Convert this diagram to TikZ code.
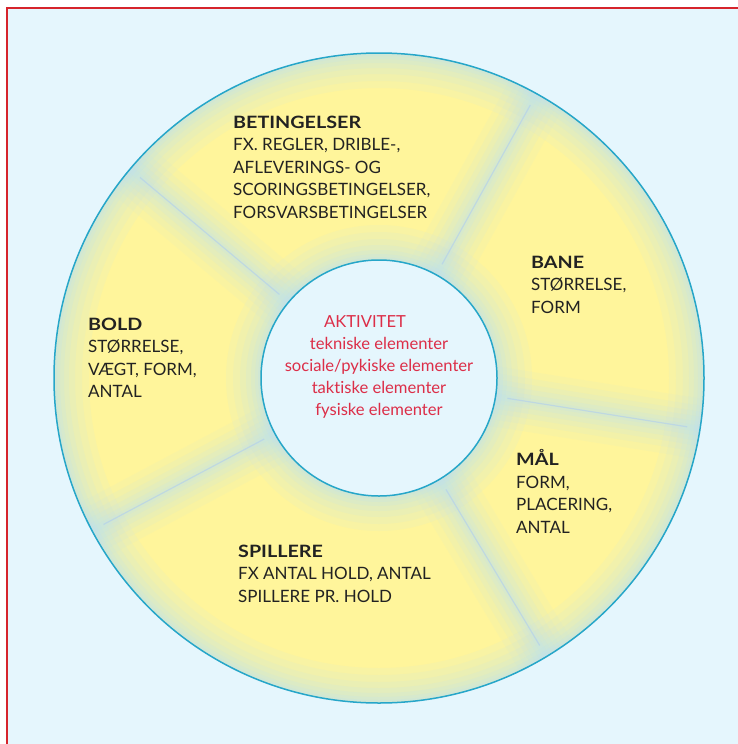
\documentclass[tikz,border=0pt]{standalone}
\usepackage{fontspec}
\setmainfont{Lato}[Ligatures=NoCommon, BoldFeatures={FakeStretch=1.16}]
\usetikzlibrary{calc}

\definecolor{paper}{RGB}{229,246,253}
\definecolor{framered}{RGB}{214,36,44}
\definecolor{ringyellow}{RGB}{255,245,155}
\definecolor{glowblue}{RGB}{188,226,244}
\definecolor{seamblue}{RGB}{176,206,238}
\definecolor{rimblue}{RGB}{38,166,201}
\definecolor{ink}{RGB}{34,34,34}
\definecolor{actred}{RGB}{220,46,72}

\begin{document}
\begin{tikzpicture}
		[
			x=1pt, y=-1pt,
			rim/.style={draw=rimblue, line width=1.5pt},
			glow/.style={draw=glowblue, line cap=round},
			seam/.style={draw=seamblue, line width=1.2pt, opacity=0.6},
			field/.style={anchor=base west, inner sep=0pt, align=left, text=ink,
				font=\fontsize{17}{22.5}\selectfont},
			activity/.style={anchor=base, inner sep=0pt, align=center, text=actred,
				font=\fontsize{16.6}{22}\selectfont},
		]

		% Frame
		\useasboundingbox (0,0) rectangle (738,744);
		\fill[white] (0,0) rectangle (738,744);
		\fill[paper] (7,8) rectangle (738,744);
		\draw[framered, line width=2pt] (7,744) -- (7,8) -- (738,8);

		% Ring
		\coordinate (c) at (379,378);
		\fill[ringyellow] (c) circle (325pt);
		\begin{scope}
			\clip (c) circle (325pt);
			\foreach \w/\o in {70/0.10, 56/0.10, 42/0.12, 30/0.14, 20/0.16, 12/0.18, 6/0.2}
				\draw[glow, line width=\w pt, opacity=\o] (c) circle (325pt) (c) circle (118pt);
			\foreach \w/\o in {60/0.08, 46/0.10, 34/0.12, 24/0.14, 14/0.16, 6/0.18}
				\foreach \a in {140, 61, -9, -59, -152}
					\draw[glow, line width=\w pt, opacity=\o] ($(c)+(\a:118pt)$) -- ($(c)+(\a:325pt)$);
		\end{scope}
		\foreach \a in {140, 61, -9, -59, -152}
			\draw[seam] ($(c)+(\a:130pt)$) -- ($(c)+(\a:312pt)$);

		\draw[rim] (c) circle (325pt);
		\draw[rim, fill=paper] (c) circle (118pt);

		% Fields (placed by the baseline of their last line)
		\node[field] (betingelser) at (233,218)
			{\textbf{BETINGELSER}\\FX. REGLER, DRIBLE-,\\AFLEVERINGS- OG\\SCORINGSBETINGELSER,\\FORSVARSBETINGELSER};
		\node[field] (bane) at (531,313) {\textbf{BANE}\\STØRRELSE,\\FORM};
		\node[field] (maal) at (516,533) {\textbf{MÅL}\\FORM,\\PLACERING,\\ANTAL};
		\node[field] (spillere) at (238,602) {\textbf{SPILLERE}\\FX ANTAL HOLD, ANTAL\\SPILLERE PR. HOLD};
		\node[field] (bold) at (88,397.5) {\textbf{BOLD}\\STØRRELSE,\\VÆGT, FORM,\\ANTAL};

		% Centre
		\node[activity] (aktivitet) at (379,415.5)
			{AKTIVITET\hspace*{28pt}\\tekniske elementer\\sociale/pykiske elementer\\taktiske elementer\\fysiske elementer};

		\end{tikzpicture}
\end{document}
